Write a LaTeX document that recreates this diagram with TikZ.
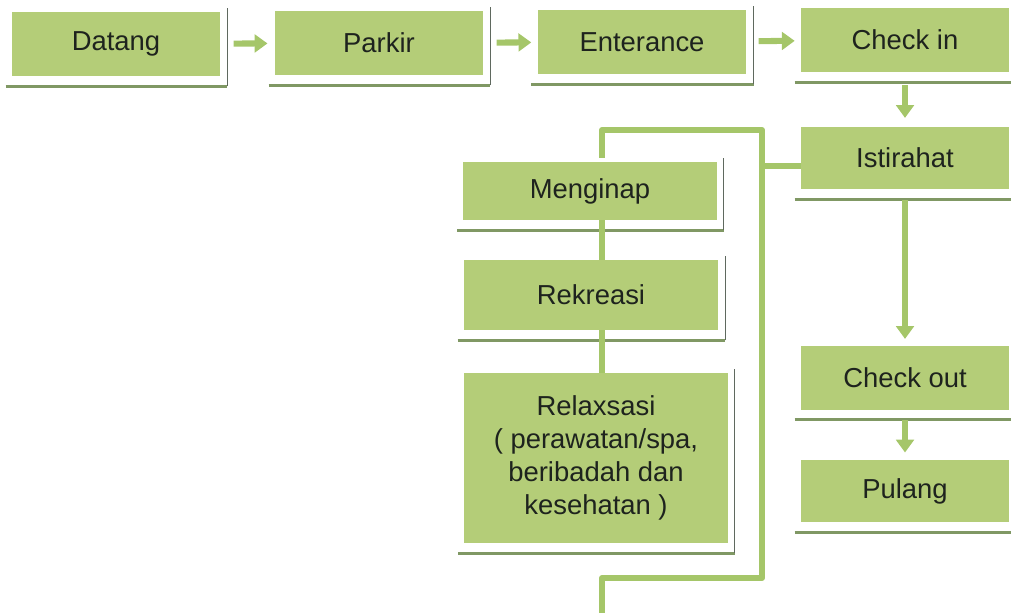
\documentclass[tikz,border=0pt]{standalone}
\usepackage{fontspec}
\setmainfont{Liberation Sans}
\usetikzlibrary{arrows.meta, positioning, calc}
\definecolor{boxgreen}{RGB}{180,205,120}
\definecolor{linegreen}{RGB}{165,198,105}
\definecolor{shadegreen}{RGB}{128,152,100}
\definecolor{edgegray}{RGB}{95,105,95}
\definecolor{textdark}{RGB}{30,35,30}

\tikzset{
  stepbox/.style={fill=boxgreen, draw=none, text=textdark, align=center,
    inner sep=0pt, font=\fontsize{19.5}{23.5}\selectfont},
  flowline/.style={draw=linegreen, line width=4.3pt},
  flowarrow/.style={flowline, -{Triangle[width=0.44cm,length=0.32cm]}},
  baseline/.style={draw=shadegreen, line width=2pt},
  sideline/.style={draw=edgegray, line width=0.8pt}
}

\begin{document}
\begin{tikzpicture}[x=0.025cm, y=-0.025cm]
        \useasboundingbox (0,0) rectangle (1011,613);

        % top row
        \node[stepbox, minimum width=5.2cm, minimum height=1.6cm] (datang) at (116,44) {Datang};
        \node[stepbox, minimum width=5.2cm, minimum height=1.6cm] (parkir) at (379,43) {Parkir};
        \node[stepbox, minimum width=5.22cm, minimum height=1.6cm] (enterance) at (642,42) {Enterance};
        \node[stepbox, minimum width=5.2cm, minimum height=1.6cm] (checkin) at (905,40) {Check in};

        % right column
        \node[stepbox, minimum width=5.2cm, minimum height=1.55cm] (istirahat) at (905,158) {Istirahat};
        \node[stepbox, minimum width=5.2cm, minimum height=1.58cm] (checkout) at (905,378) {Check out};
        \node[stepbox, minimum width=5.2cm, minimum height=1.55cm] (pulang) at (905,491) {Pulang};

        % left column
        \node[stepbox, minimum width=6.33cm, minimum height=1.45cm] (menginap) at (590,191) {Menginap};
        \node[stepbox, minimum width=6.35cm, minimum height=1.75cm] (rekreasi) at (591,295) {Rekreasi};
        \node[stepbox, minimum width=6.58cm, minimum height=4.25cm] (relaxsasi) at (596,458)
          {Relaxsasi\\( perawatan/spa,\\beribadah dan\\kesehatan )};

        % shadow lines under and beside each box
        \foreach \n in {datang, parkir, enterance, checkin, istirahat, checkout, pulang, menginap, rekreasi, relaxsasi} {
          \draw[baseline] ([shift={(-6,10)}]\n.south west) -- ([shift={(7,10)}]\n.south east);
          \draw[sideline] ([shift={(7,10)}]\n.south east) -- ([shift={(7,-4)}]\n.north east);
        }

        % arrows
        \draw[flowarrow, shorten <=0.33cm, shorten >=0.18cm] (datang) -- (parkir);
        \draw[flowarrow, shorten <=0.33cm, shorten >=0.15cm] (parkir) -- (enterance);
        \draw[flowarrow, shorten <=0.3cm, shorten >=0.15cm] (enterance) -- (checkin);
        \draw[flowarrow, shorten <=0.33cm, shorten >=0.22cm] (checkin) -- (istirahat);
        \draw[flowarrow, shorten <=0.28cm, shorten >=0.18cm] (istirahat) -- (checkout);
        \draw[flowarrow, shorten <=0.25cm, shorten >=0.18cm] (checkout) -- (pulang);

        % branch to the activities
        \coordinate (bustop) at (762,130);
        \coordinate (busbot) at (762,578);
        \coordinate (junction) at (762,166);
        \coordinate (spine) at (602,0);
        \coordinate (tail) at (602,613);
        \coordinate (mtop) at ($(spine |- menginap.north)+(0,-4)$);
        \draw[flowline] (junction -| istirahat.west) -- (junction);
        \draw[flowline, line join=round] (mtop) -- (spine |- bustop)
          -- (bustop) -- (busbot) -- (busbot -| spine) -- (tail);
        \draw[flowline] (spine |- menginap.south) -- (spine |- rekreasi.north);
        \draw[flowline] (spine |- rekreasi.south) -- (spine |- relaxsasi.north);

      \end{tikzpicture}
\end{document}
